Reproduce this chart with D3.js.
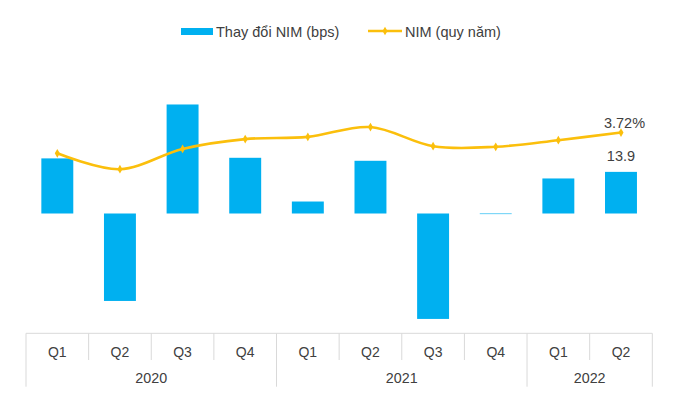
<!DOCTYPE html>
<html>
<head>
<meta charset="utf-8">
<script src="https://cdn.jsdelivr.net/npm/d3@7"></script>
<style>
  body { margin: 0; background: #fff; }
  svg { display: block; font-family: "Liberation Sans", Arial, sans-serif; }
</style>
</head>
<body>
<div id="container"></div>
<script>
// data
const quarters = ['Q1', 'Q2', 'Q3', 'Q4', 'Q1', 'Q2', 'Q3', 'Q4', 'Q1', 'Q2'];
const years = ['2020', '2021', '2022'];
const quartersPerYear = [4, 4, 2];
const nimChange = [18.4, -29.2, 36.4, 18.6, 4.0, 17.6, -35.2, -0.2, 11.7, 13.9]; // bps
const nim = [3.34, 3.05, 3.42, 3.60, 3.64, 3.82, 3.47, 3.46, 3.58, 3.72]; // %

const barColor = '#00B0F0';
const lineColor = '#FBBF0C';
const textColor = '#404040';
const gridColor = '#D9D9D9';

const width = 680, height = 397;
const plotLeft = 26, plotRight = 652.3, plotTop = 93.7, plotBottom = 333.3;

const svg = d3.select('#container').append('svg')
  .attr('width', width)
  .attr('height', height);

const x = d3.scaleBand()
  .domain(d3.range(quarters.length))
  .range([plotLeft, plotRight])
  .paddingInner(0.49)
  .paddingOuter(0.245);

const yBar = d3.scaleLinear().domain([-40, 40]).range([plotBottom, plotTop]);
const yLine = d3.scaleLinear().domain([0.05, 4.43]).range([plotBottom, plotTop]);

// bars
svg.append('g').selectAll('rect')
  .data(nimChange)
  .enter()
  .append('rect')
  .attr('x', (d, i) => x(i))
  .attr('y', d => yBar(Math.max(0, d)))
  .attr('width', x.bandwidth())
  .attr('height', d => Math.abs(yBar(d) - yBar(0)))
  .attr('fill', barColor);

// smoothed NIM line
const cx = i => x(i) + x.bandwidth() / 2;
const line = d3.line()
  .x((d, i) => cx(i))
  .y(d => yLine(d))
  .curve(d3.curveCardinal.tension(0));

svg.append('path')
  .datum(nim)
  .attr('d', line)
  .attr('fill', 'none')
  .attr('stroke', lineColor)
  .attr('stroke-width', 2.6);

const diamond = d3.symbol(d3.symbolDiamond).size(22);
svg.append('g').selectAll('path')
  .data(nim)
  .enter()
  .append('path')
  .attr('d', diamond)
  .attr('transform', (d, i) => `translate(${cx(i)},${yLine(d)})`)
  .attr('fill', lineColor);

// labels on the last point
const last = nim.length - 1;
svg.append('text')
  .attr('x', cx(last) + 3.5)
  .attr('y', yLine(nim[last]) - 5)
  .attr('text-anchor', 'middle')
  .attr('fill', textColor)
  .style('font-size', '14.5px')
  .text(nim[last].toFixed(2) + '%');

svg.append('text')
  .attr('x', cx(last))
  .attr('y', yBar(nimChange[last]) - 10.5)
  .attr('text-anchor', 'middle')
  .attr('fill', textColor)
  .style('font-size', '14.5px')
  .text(nimChange[last].toFixed(1));

// category axis (quarters grouped by year)
const axis = svg.append('g');
const step = x.step();
axis.append('line')
  .attr('x1', plotLeft).attr('x2', plotRight)
  .attr('y1', plotBottom).attr('y2', plotBottom)
  .attr('stroke', gridColor);

let start = 0;
const groupEdges = [0];
quartersPerYear.forEach(n => { start += n; groupEdges.push(start); });

d3.range(quarters.length + 1).forEach(i => {
  const isGroup = groupEdges.includes(i);
  axis.append('line')
    .attr('x1', plotLeft + i * step).attr('x2', plotLeft + i * step)
    .attr('y1', plotBottom).attr('y2', isGroup ? 386.7 : 360)
    .attr('stroke', gridColor);
});

axis.selectAll('text.q')
  .data(quarters)
  .enter()
  .append('text')
  .attr('class', 'q')
  .attr('x', (d, i) => cx(i))
  .attr('y', 356.8)
  .attr('text-anchor', 'middle')
  .attr('fill', textColor)
  .style('font-size', '14px')
  .text(d => d);

axis.selectAll('text.yr')
  .data(years)
  .enter()
  .append('text')
  .attr('class', 'yr')
  .attr('x', (d, i) => plotLeft + (groupEdges[i] + groupEdges[i + 1]) / 2 * step)
  .attr('y', 382.8)
  .attr('text-anchor', 'middle')
  .attr('fill', textColor)
  .style('font-size', '14.3px')
  .text(d => d);

// legend
const legend = svg.append('g');
legend.append('rect')
  .attr('x', 181).attr('y', 28)
  .attr('width', 32).attr('height', 7)
  .attr('fill', barColor);
legend.append('text')
  .attr('x', 216).attr('y', 36.8)
  .attr('fill', textColor)
  .style('font-size', '14.5px')
  .text('Thay đổi NIM (bps)');
legend.append('line')
  .attr('x1', 368).attr('x2', 402)
  .attr('y1', 31).attr('y2', 31)
  .attr('stroke', lineColor)
  .attr('stroke-width', 2.6);
legend.append('path')
  .attr('d', diamond)
  .attr('transform', 'translate(385,31)')
  .attr('fill', lineColor);
legend.append('text')
  .attr('x', 405).attr('y', 36.8)
  .attr('fill', textColor)
  .style('font-size', '14.5px')
  .text('NIM (quy năm)');
</script>
</body>
</html>
